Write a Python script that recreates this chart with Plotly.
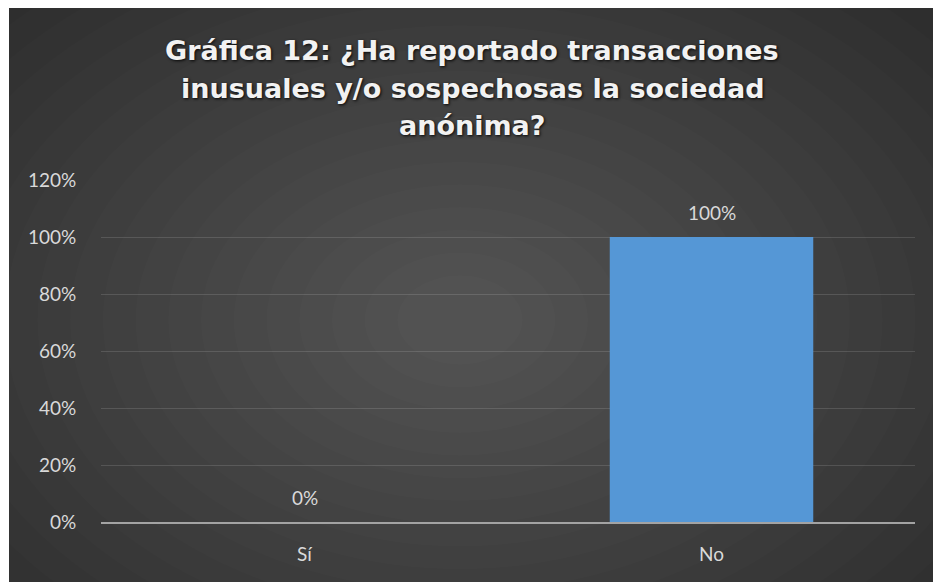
import plotly.graph_objects as go

categories = ["Sí", "No"]
values = [0.0, 1.0]
title_lines = [
    "Gráfica 12: ¿Ha reportado transacciones",
    "inusuales y/o sospechosas la sociedad",
    "anónima?",
]

W, H = 933, 582
L, R, T, B = 101, 18, 180, 60
PW, PH = W - L - R, H - T - B


def px(x):
    return (x - L) / PW


def py(y):
    return (H - B - y) / PH


fig = go.Figure()
fig.add_trace(go.Bar(
    x=categories, y=values,
    marker=dict(color="#5597d6", line=dict(width=0)),
    hoverinfo="skip",
))

shapes = [dict(type="rect", xref="paper", yref="paper",
               x0=px(9), x1=px(W), y0=py(H), y1=py(8),
               fillcolor="#262626", line=dict(width=0), layer="below")]
n = 22
cx, cy = 460, 320
for i in range(n):
    f = 1 - i / n
    rx, ry = 720 * f + 30, 500 * f + 22
    shapes.append(dict(type="circle", xref="paper", yref="paper",
                       x0=px(cx - rx), x1=px(cx + rx), y0=py(cy + ry), y1=py(cy - ry),
                       fillcolor="rgba(255,255,255,0.01)", line=dict(width=0), layer="below"))

annotations = []
for i, line in enumerate(title_lines):
    annotations.append(dict(
        text="<b>" + line + "</b>", xref="paper", yref="paper",
        x=px(472), y=py(51 + 37.5 * i), xanchor="center", yanchor="middle",
        showarrow=False,
        font=dict(family="DejaVu Sans", size=27, color="#f2f2f2",
                  shadow="1px 1px 3px rgba(0,0,0,0.9)"),
    ))
for c, v in zip(categories, values):
    annotations.append(dict(
        text=f"{v:.0%}", x=c, y=v, xref="x", yref="y", yshift=25,
        xanchor="center", yanchor="middle", showarrow=False,
        font=dict(family="Lato", size=19, color="#d9d9d9"),
    ))

fig.update_layout(
    width=W, height=H, autosize=False,
    margin=dict(l=L, r=R, t=T, b=B, pad=0),
    paper_bgcolor="white", plot_bgcolor="rgba(0,0,0,0)",
    bargap=0.5, showlegend=False,
    shapes=shapes, annotations=annotations,
    font=dict(family="Lato", size=19, color="#d9d9d9"),
    xaxis=dict(showgrid=False, showline=True, linecolor="#a3a3a3", linewidth=2,
               ticks="outside", ticklen=0, ticklabelstandoff=14,
               tickfont=dict(family="Lato", size=19, color="#d9d9d9"),
               range=[-0.5, 1.5], fixedrange=True),
    yaxis=dict(range=[0, 1.2], dtick=0.2, tickformat=".0%", showgrid=True,
               gridcolor="rgba(255,255,255,0.13)", gridwidth=1, zeroline=False,
               ticks="outside", ticklen=0, ticklabelstandoff=20,
               tickfont=dict(family="Lato", size=19, color="#d9d9d9"),
               fixedrange=True),
)

fig.write_html("out.html", config={"displayModeBar": False})
